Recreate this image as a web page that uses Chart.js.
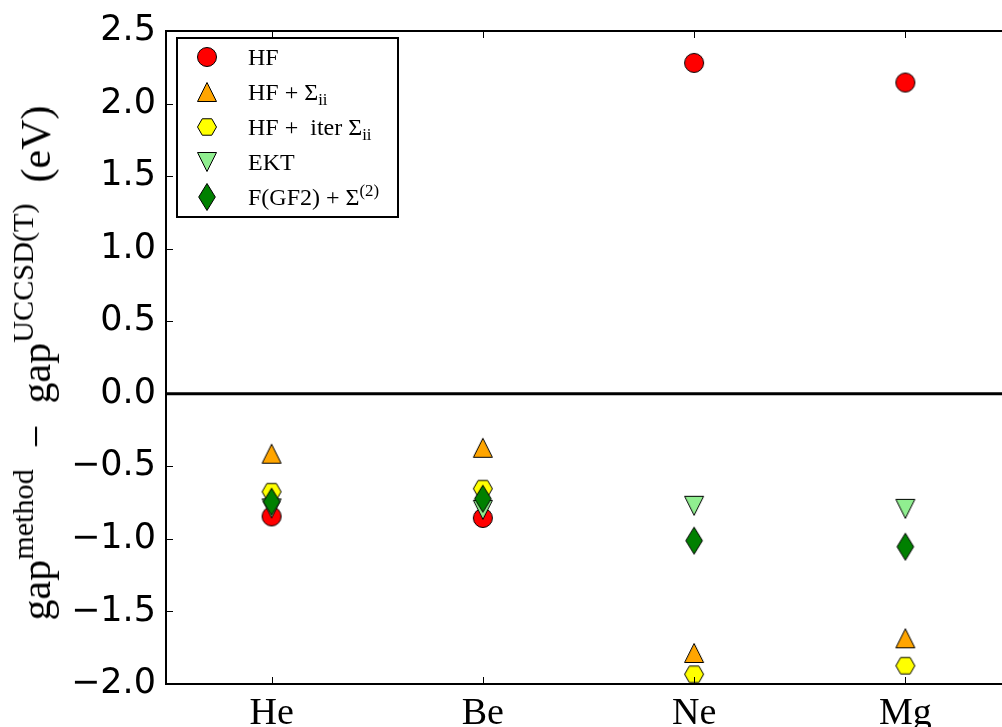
<!DOCTYPE html>
<html>
<head>
<meta charset="utf-8">
<script src="https://cdn.jsdelivr.net/npm/chart.js@4.4.0/dist/chart.umd.min.js"></script>
<style>
  html, body { margin: 0; padding: 0; background: #fff; overflow: hidden; width: 1002px; height: 727px; }
  #wrap { position: relative; width: 1011px; height: 727px; overflow: hidden; }
  #chart { position: absolute; left: 0; top: 0; width: 1011px; height: 727px; }
  #ylabel {
    position: absolute; left: 36px; top: 363px;
    transform: translate(-50%, -50%) rotate(-90deg);
    white-space: nowrap; font-family: 'Liberation Serif', serif; font-size: 42px; line-height: 1;
  }
  #ylabel sup { font-size: 0.72em; vertical-align: 0.55em; line-height: 0; }
  #legend {
    position: absolute; left: 176px; top: 37px; width: 219px; height: 177px;
    border: 2px solid #000; background: #fff;
    font-family: 'Liberation Serif', serif; font-size: 24px;
  }
  .row { display: flex; align-items: center; height: 35px; line-height: 1; }
  .row .mk { width: 58px; display: flex; justify-content: center; align-items: center; }
  .row .tx { margin-left: 12px; white-space: nowrap; }
  .row sub { font-size: 0.7em; vertical-align: -0.3em; line-height: 0; }
  .row sup { font-size: 0.7em; vertical-align: 0.55em; line-height: 0; }
</style>
</head>
<body>
<div id="wrap">
  <canvas id="chart" width="1011" height="727"></canvas>
  <div id="ylabel">gap<sup>method</sup>&ensp;&minus;&ensp;gap<sup>UCCSD(T)</sup>&ensp;(eV)</div>
  <div id="legend"></div>
</div>
<script>
const elements = ['He', 'Be', 'Ne', 'Mg'];

const hf          = [-0.845, -0.856, 2.28, 2.145];
const hfSigma     = [-0.413, -0.372, -1.786, -1.685];
const hfIterSigma = [-0.675, -0.654, -1.933, -1.874];
const ekt         = [-0.79, -0.80, -0.772, -0.793];
const gf2Sigma2   = [-0.744, -0.723, -1.012, -1.054];

const seriesNames = [
  'HF',
  'HF + &Sigma;<sub>ii</sub>',
  'HF + &nbsp;iter &Sigma;<sub>ii</sub>',
  'EKT',
  'F(GF2) + &Sigma;<sup>(2)</sup>',
];
const yTicks = { min: -2.0, max: 2.5, step: 0.5 };

// marcatori in stile matplotlib (o ^ h v d), disegnati su canvas piccoli
function makeMarker(shape, fill) {
  const c = document.createElement('canvas');
  const g = c.getContext('2d');
  let pts = null;
  if (shape === 'circle') {
    c.width = 22; c.height = 22;
    g.beginPath(); g.arc(11, 11, 9.5, 0, Math.PI * 2);
  } else {
    if (shape === 'up') { c.width = 22; c.height = 22; pts = [[11, 1.5], [20.5, 20.5], [1.5, 20.5]]; }
    if (shape === 'down') { c.width = 22; c.height = 22; pts = [[1.5, 1.5], [20.5, 1.5], [11, 20.5]]; }
    if (shape === 'hex') {
      c.width = 22; c.height = 20;
      pts = [0, 1, 2, 3, 4, 5].map((k) => [11 + 9.5 * Math.cos(k * Math.PI / 3), 10 + 9.5 * Math.sin(k * Math.PI / 3)]);
    }
    if (shape === 'thin') { c.width = 20; c.height = 30; pts = [[10, 1.5], [18.3, 15], [10, 28.5], [1.7, 15]]; }
    g.beginPath();
    pts.forEach((p, i) => (i ? g.lineTo(p[0], p[1]) : g.moveTo(p[0], p[1])));
    g.closePath();
  }
  g.fillStyle = fill; g.fill();
  g.lineWidth = 1; g.strokeStyle = '#000'; g.stroke();
  return c;
}

const series = [
  { data: hf, shape: 'circle', color: '#ff0000' },
  { data: hfSigma, shape: 'up', color: '#ffa500' },
  { data: hfIterSigma, shape: 'hex', color: '#ffff00' },
  { data: ekt, shape: 'down', color: '#90ee90' },
  { data: gf2Sigma2, shape: 'thin', color: '#008000' },
];

// assi "classic": tacche verso l'interno, cornice e linea dello zero
const axesFrame = {
  id: 'axesFrame',
  afterDatasetsDraw(chart) {
    const { ctx, chartArea: a, scales: { x, y } } = chart;
    const line = (x1, y1, x2, y2) => { ctx.beginPath(); ctx.moveTo(x1, y1); ctx.lineTo(x2, y2); ctx.stroke(); };
    ctx.save();
    ctx.strokeStyle = '#000';
    ctx.lineWidth = 3;
    const y0 = y.getPixelForValue(0);
    line(a.left, y0, a.right, y0);
    ctx.lineWidth = 1;
    y.ticks.forEach((t) => {
      const py = Math.round(y.getPixelForValue(t.value)) + 0.5;
      line(a.left, py, a.left + 7, py);
      line(a.right, py, a.right - 7, py);
    });
    x.ticks.forEach((t, i) => {
      const px = Math.round(x.getPixelForTick(i)) + 0.5;
      line(px, a.top, px, a.top + 7);
      line(px, a.bottom, px, a.bottom - 7);
    });
    ctx.lineWidth = 2;
    ctx.strokeRect(a.left, a.top, a.right - a.left, a.bottom - a.top);
    ctx.restore();
  },
};

new Chart(document.getElementById('chart'), {
  type: 'line',
  data: {
    labels: elements,
    datasets: series.map((s, i) => ({
      label: seriesNames[i].replace(/<[^>]+>/g, ''),
      data: s.data,
      showLine: false,
      pointStyle: makeMarker(s.shape, s.color),
      pointRadius: 10,
      order: -i,
    })),
  },
  options: {
    responsive: false,
    animation: false,
    clip: false,
    // niente padding automatico per i marcatori: il bordo destro resta fuori dalla finestra
    layout: { autoPadding: false, padding: { top: 31, left: 0, right: 0, bottom: 0 } },
    plugins: { legend: { display: false }, tooltip: { enabled: false } },
    scales: {
      x: {
        type: 'category',
        offset: true,
        grid: { display: false, drawTicks: false },
        border: { display: false },
        ticks: { color: '#000', padding: 7, font: { family: 'Liberation Serif', size: 38 } },
        afterFit: (s) => { s.height = 43; },
      },
      y: {
        min: yTicks.min,
        max: yTicks.max,
        grid: { display: false, drawTicks: false },
        border: { display: false },
        ticks: {
          stepSize: yTicks.step,
          autoSkip: false,
          color: '#000',
          padding: 10,
          font: { family: 'DejaVu Sans', size: 35 },
          callback: (v) => (v < 0 ? '\u2212' : '') + Math.abs(v).toFixed(1),
        },
        afterFit: (s) => { s.width = 166; },
      },
    },
  },
  plugins: [axesFrame],
});

// legenda dentro il grafico, in alto a sinistra
const legend = document.getElementById('legend');
legend.innerHTML = series.map((s, i) => `
  <div class="row"><div class="mk"></div><div class="tx">${seriesNames[i]}</div></div>
`).join('');
legend.querySelectorAll('.mk').forEach((el, i) => el.appendChild(makeMarker(series[i].shape, series[i].color)));
</script>
</body>
</html>
